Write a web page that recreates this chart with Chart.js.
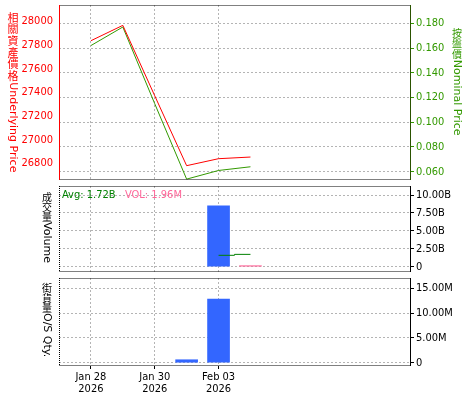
<!DOCTYPE html>
<html>
<head>
<meta charset="utf-8">
<script src="https://cdn.jsdelivr.net/npm/chart.js@4.4.1/dist/chart.umd.min.js"></script>
<style>
  body { margin: 0; background: #fff; }
  #wrap { position: relative; width: 475px; height: 400px; }
  canvas { position: absolute; left: 0; }
</style>
</head>
<body>
<div id="wrap">
  <canvas id="price" width="475" height="183" style="top:0px"></canvas>
  <canvas id="volume" width="475" height="92" style="top:183px"></canvas>
  <canvas id="qty" width="475" height="125" style="top:275px"></canvas>
</div>
<script>
// trading days on the x axis, only some get a label
const categories = ['Jan 27', 'Jan 28', 'Jan 29', 'Jan 30', 'Feb 02', 'Feb 03', 'Feb 04', 'Feb 05', 'Feb 06', 'Feb 09', 'Feb 10', 'Feb 11'];
const labeledDays = ['Jan 28', 'Jan 30', 'Feb 03'];
const yearLabel = '2026';

// series
const underlyingPrice = [null, 27836, 27966, 27371, 26780, 26839, 26853, null, null, null, null, null];
const nominalPrice = [null, 0.162, 0.177, 0.115, 0.054, 0.061, 0.064, null, null, null, null, null];
const turnover = [null, null, null, null, null, 8.51e9, null, null, null, null, null, null];
const currentVol = [null, null, null, null, null, null, 1.96e6, null, null, null, null, null];
const avgTurnover = [null, null, null, null, null, 1.59e9, 1.72e9, null, null, null, null, null];
const osQty = [null, null, null, null, 0.6e6, 12.84e6, null, null, null, null, null, null];

// axis ticks and ranges
const underlyingTicks = [26800, 27000, 27200, 27400, 27600, 27800, 28000];
const underlyingRange = [26659, 28138];
const nominalTicks = [0.06, 0.08, 0.10, 0.12, 0.14, 0.16, 0.18];
const nominalRange = [0.0533, 0.1948];
const volumeTicks = [0, 2.5e9, 5e9, 7.5e9, 10e9];
const volumeRange = [-0.74e9, 11.26e9];
const qtyTicks = [0, 5e6, 10e6, 15e6];
const qtyRange = [-0.66e6, 17.08e6];

const FONT = '"DejaVu Sans", "Noto Sans CJK TC", sans-serif';
const TICK_FONT = '"DejaVu Sans Condensed", "DejaVu Sans", sans-serif';
const CJK_FONT = '"Noto Sans CJK TC", sans-serif';
const RED = '#ff0000';
const GREEN = '#339900';
const GRID = '#b4b4b4';

Chart.defaults.font.family = TICK_FONT;
Chart.defaults.font.size = 11;
Chart.defaults.color = '#000';

function isLabeled(i) {
  return labeledDays.includes(categories[i]);
}

function lastValue(arr) {
  return arr.filter((v) => v != null).pop();
}

function xAxis(showLabels) {
  return {
    type: 'category',
    offset: false,
    grid: {
      offset: false,
      color: (c) => (isLabeled(c.index) ? GRID : 'transparent'),
      tickColor: (c) => (isLabeled(c.index) ? '#000' : 'transparent'),
      drawTicks: showLabels,
      tickLength: 3,
    },
    border: { display: false, dash: [2, 2] },
    ticks: {
      display: showLabels,
      autoSkip: false,
      maxRotation: 0,
      padding: 2,
      color: '#000',
      font: { size: 11, lineHeight: 1.1 },
      callback: (v, i) => (isLabeled(i) ? [categories[i], yearLabel] : ''),
    },
    afterFit: (s) => {
      s.height = showLabels ? 34 : 0;
      s.paddingLeft = 0;
      s.paddingRight = 0;
    },
  };
}

function rightAxis(range, tickValues, fmt, color, tickColor) {
  return {
    position: 'right',
    min: range[0],
    max: range[1],
    grid: { color: GRID, tickColor: tickColor, tickLength: 4 },
    border: { display: false, dash: [2, 2] },
    ticks: { color: color, padding: 2, callback: fmt },
    afterBuildTicks: (s) => {
      s.ticks = tickValues.map((v) => ({ value: v }));
    },
    afterFit: (s) => {
      s.width = 65;
      s.paddingTop = 0;
      s.paddingBottom = 0;
    },
  };
}

// vertical title: CJK upright, latin part turned clockwise
function drawVerticalTitle(ctx, text, x, y, color, size, cjkSize, step) {
  ctx.save();
  ctx.fillStyle = color;
  ctx.textAlign = 'center';
  ctx.textBaseline = 'top';
  let latin = '';
  const flush = () => {
    if (!latin) return;
    ctx.font = size + 'px ' + FONT;
    ctx.save();
    ctx.translate(x, y);
    ctx.rotate(Math.PI / 2);
    ctx.textAlign = 'left';
    ctx.textBaseline = 'middle';
    ctx.fillText(latin, 0, 0);
    ctx.restore();
    y += ctx.measureText(latin).width;
    latin = '';
  };
  for (const ch of text) {
    if (ch.charCodeAt(0) > 0x2e80) {
      flush();
      ctx.font = cjkSize + 'px ' + CJK_FONT;
      ctx.fillText(ch, x, y);
      y += step;
    } else {
      latin += ch;
    }
  }
  flush();
  ctx.restore();
}

function line(ctx, x1, y1, x2, y2, color, dash) {
  ctx.save();
  ctx.strokeStyle = color;
  ctx.lineWidth = 1;
  ctx.setLineDash(dash || []);
  ctx.beginPath();
  ctx.moveTo(x1, y1);
  ctx.lineTo(x2, y2);
  ctx.stroke();
  ctx.restore();
}

function framePlugin(leftColor, leftDash, rightColor, rightDash, extra) {
  return {
    id: 'frame',
    afterDraw(chart) {
      const ctx = chart.ctx;
      const a = chart.chartArea;
      const l = Math.round(a.left) + 0.5;
      const r = Math.round(a.right) + 0.5;
      const t = Math.round(a.top) + 0.5;
      const b = Math.round(a.bottom) - 0.5;
      line(ctx, l, t, r, t, '#000', [1, 1]);
      line(ctx, l, b, r, b, '#000', [1, 1]);
      line(ctx, l, t - 0.5, l, b + 0.5, leftColor, leftDash);
      line(ctx, r, t - 0.5, r, b + 0.5, rightColor, rightDash);
      if (extra) extra(ctx, chart);
    },
  };
}

const common = {
  responsive: false,
  animation: false,
  events: [],
  plugins: { legend: { display: false }, tooltip: { enabled: false } },
};

// panel 1: underlying vs nominal price
new Chart(document.getElementById('price'), {
  type: 'line',
  data: {
    labels: categories,
    datasets: [
      {
        data: underlyingPrice,
        yAxisID: 'yL',
        borderColor: RED,
        borderWidth: 1,
        pointRadius: 0,
        order: 0,
      },
      {
        data: nominalPrice,
        yAxisID: 'yR',
        borderColor: GREEN,
        borderWidth: 1,
        pointRadius: 0,
        order: 1,
      },
    ],
  },
  options: {
    ...common,
    layout: { padding: { top: 5, bottom: 3, left: 0, right: 0 } },
    scales: {
      x: xAxis(false),
      yL: {
        position: 'left',
        min: underlyingRange[0],
        max: underlyingRange[1],
        grid: { drawOnChartArea: false, drawTicks: false },
        border: { display: false },
        ticks: { color: RED, padding: 6, callback: (v) => String(v) },
        afterBuildTicks: (s) => {
          s.ticks = underlyingTicks.map((v) => ({ value: v }));
        },
        afterFit: (s) => {
          s.width = 59;
          s.paddingTop = 0;
          s.paddingBottom = 0;
        },
      },
      yR: rightAxis(nominalRange, nominalTicks, (v) => v.toFixed(3), GREEN, GREEN),
    },
  },
  plugins: [
    framePlugin(RED, [], '#2a5200', [], (ctx) => {
      drawVerticalTitle(ctx, '相關資產價格Underlying Price', 13, 12, RED, 11, 11, 11.7);
      drawVerticalTitle(ctx, '按盤價Nominal Price', 457, 28, GREEN, 11, 10, 10.6);
    }),
  ],
});

// panel 2: turnover
const avgText = 'Avg: ' + (lastValue(avgTurnover) / 1e9).toFixed(2) + 'B';
const volText = 'VOL: ' + (lastValue(currentVol) / 1e6).toFixed(2) + 'M';

new Chart(document.getElementById('volume'), {
  type: 'bar',
  data: {
    labels: categories,
    datasets: [
      {
        type: 'line',
        data: avgTurnover,
        yAxisID: 'y',
        stepped: 'middle',
        borderColor: '#008000',
        borderWidth: 1,
        pointRadius: 0,
        order: 0,
      },
      {
        data: turnover,
        yAxisID: 'y',
        backgroundColor: '#3366ff',
        barThickness: 22,
        grouped: false,
        order: 1,
      },
      {
        data: currentVol,
        yAxisID: 'y',
        backgroundColor: '#ff6699',
        barThickness: 22,
        minBarLength: 1,
        grouped: false,
        order: 2,
      },
    ],
  },
  options: {
    ...common,
    layout: { padding: { top: 3, bottom: 3, left: 59, right: 0 } },
    scales: {
      x: xAxis(false),
      y: rightAxis(volumeRange, volumeTicks, (v) => (v === 0 ? '0' : (v / 1e9).toFixed(2) + 'B'), '#000', '#000'),
    },
  },
  plugins: [
    framePlugin('#000', [1, 1], '#000', [], (ctx) => {
      drawVerticalTitle(ctx, '成交量Volume', 47, 9, '#000', 11, 10, 10);
      ctx.save();
      ctx.font = '11px ' + TICK_FONT;
      ctx.textBaseline = 'middle';
      ctx.fillStyle = '#008000';
      ctx.fillText(avgText, 62, 12.5);
      ctx.fillStyle = '#ff6699';
      ctx.fillText(volText, 125, 12.5);
      ctx.restore();
    }),
  ],
});

// panel 3: outstanding quantity
new Chart(document.getElementById('qty'), {
  type: 'bar',
  data: {
    labels: categories,
    datasets: [
      {
        data: osQty,
        backgroundColor: '#3366ff',
        barThickness: 22,
      },
    ],
  },
  options: {
    ...common,
    layout: { padding: { top: 3, bottom: 0, left: 59, right: 0 } },
    scales: {
      x: xAxis(true),
      y: rightAxis(qtyRange, qtyTicks, (v) => (v === 0 ? '0' : (v / 1e6).toFixed(2) + 'M'), '#000', '#000'),
    },
  },
  plugins: [
    framePlugin('#000', [1, 1], '#000', [], (ctx) => {
      drawVerticalTitle(ctx, '街貨量O/S Qty.', 47, 8, '#000', 11, 10, 10);
    }),
  ],
});
</script>
</body>
</html>
